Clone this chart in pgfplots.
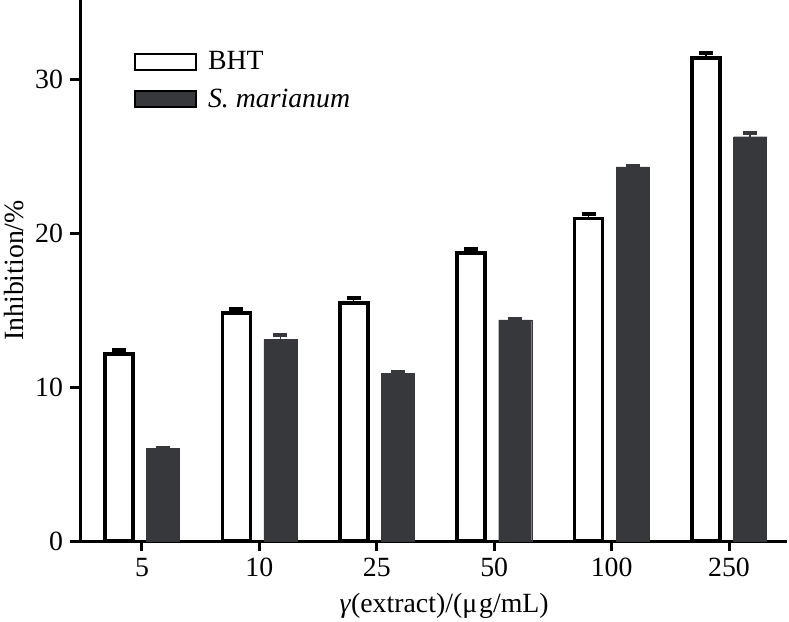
\documentclass[border=0pt]{standalone}
\usepackage{fontspec}
\setmainfont{Liberation Serif}
\usepackage{pgfplots}
\pgfplotsset{compat=1.18}
\definecolor{darkbar}{RGB}{55,56,60}
\begin{document}
\begin{tikzpicture}[font=\fontsize{13.9}{16.5}\selectfont]
\begin{axis}[
  scale only axis,
  width=353.5pt, height=270.5pt,
  xmin=-0.528, xmax=5.494,
  ymin=0, ymax=35.15,
  axis x line*=bottom, axis y line*=left,
  axis line style={line width=1.5pt, -},
  xtick={0,1,2,3,4,5}, xticklabels={5,10,25,50,100,250},
  ytick={0,10,20,30},
  tick style={line width=1.5pt, black},
  tick align=outside,
  major tick length=5pt,
  /pgf/number format/assume math mode=true,
  ybar,
  ylabel={Inhibition/\%},
  xlabel={\textit{γ}(extract)/(μ\kern1pt g/mL)},
  ylabel style={at={(axis description cs:-0.094,0.5)}, anchor=center},
  xlabel style={at={(axis description cs:0.515,-0.12)}, anchor=center},
  legend style={at={(axis description cs:0.0764,0.9135)}, anchor=north west, draw=none, fill=none, inner sep=0pt, row sep=4.1pt,
    /tikz/every odd column/.append style={column sep=3.5pt}},
  legend cell align=left,
]
\addplot[ybar, bar width=14pt, bar shift=-11.5pt, draw=black, fill=white, line width=1.8pt,
  legend image code/.code={\draw[black, fill=white, line width=0.8pt] (0pt,-4pt) rectangle (30.5pt,4pt);},
  error bars/.cd, y dir=plus, y explicit,
  error bar style={black, line width=0.6pt},
  error mark options={black, line width=2pt, mark size=3.5pt, rotate=90}]
  coordinates {(0,12.15) +- (0,0.27) (1,14.8) +- (0,0.27) (2,15.45) +- (0,0.32) (3,18.7) +- (0,0.3) (4,20.95) +- (0,0.32) (5,31.4) +- (0,0.3)};
\addlegendentry{BHT}
\addplot[ybar, bar width=16.5pt, bar shift=10.5pt, draw=darkbar, fill=darkbar, line width=0.1pt,
  legend image code/.code={\draw[black, fill=darkbar, line width=0.8pt] (0pt,-4pt) rectangle (30.5pt,4pt);},
  error bars/.cd, y dir=plus, y explicit,
  error bar style={darkbar, line width=0.6pt},
  error mark options={darkbar, line width=2pt, mark size=3.5pt, rotate=90}]
  coordinates {(0,6.04) +- (0,0.02) (1,13.1) +- (0,0.29) (2,10.9) +- (0,0.08) (3,14.36) +- (0,0.06) (4,24.3) +- (0,0.05) (5,26.27) +- (0,0.25)};
\addlegendentry{\textit{S. marianum}}
\coordinate (bl) at (rel axis cs:0,0);
\coordinate (tr) at (rel axis cs:1,1);
\end{axis}
\pgfresetboundingbox
\path ([xshift=-40pt,yshift=-40pt]bl) rectangle ([xshift=1pt]tr);
\end{tikzpicture}
\end{document}
